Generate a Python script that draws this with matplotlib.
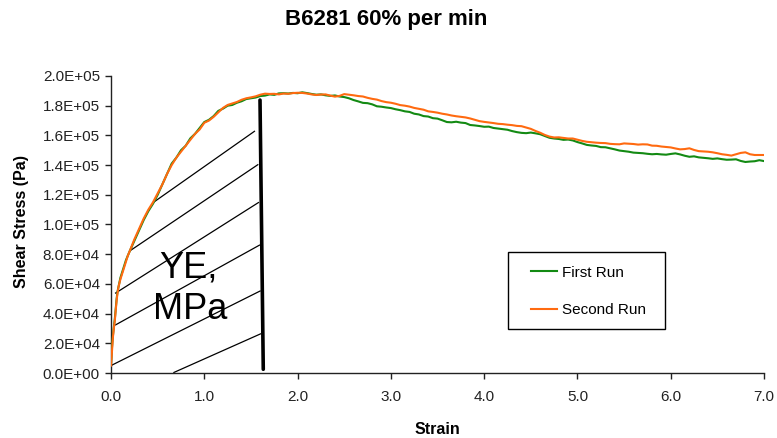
import matplotlib
matplotlib.use("Agg")
import matplotlib.pyplot as plt
from matplotlib.patches import Rectangle
from matplotlib.ticker import FuncFormatter, MultipleLocator

plt.rcParams['font.family'] = ['Liberation Sans', 'DejaVu Sans']

# Strain values (dimensionless)
strain = [
    0.00, 0.01, 0.02, 0.03, 0.04, 0.05, 0.06, 0.07, 0.08, 0.10, 0.12, 0.14, 0.16, 0.18, 0.20,
    0.25, 0.30, 0.35, 0.40, 0.45, 0.50, 0.55, 0.60, 0.65, 0.70, 0.75, 0.80, 0.85, 0.90, 0.95,
    1.00, 1.05, 1.10, 1.15, 1.20, 1.25, 1.30, 1.35, 1.40, 1.45, 1.50, 1.55, 1.60, 1.65, 1.70,
    1.75, 1.80, 1.85, 1.90, 1.95, 2.00, 2.05, 2.10, 2.15, 2.20, 2.25, 2.30, 2.35, 2.40, 2.45,
    2.50, 2.55, 2.60, 2.65, 2.70, 2.75, 2.80, 2.85, 2.90, 2.95, 3.00, 3.05, 3.10, 3.15, 3.20,
    3.25, 3.30, 3.35, 3.40, 3.45, 3.50, 3.55, 3.60, 3.65, 3.70, 3.75, 3.80, 3.85, 3.90, 3.95,
    4.00, 4.05, 4.10, 4.15, 4.20, 4.25, 4.30, 4.35, 4.40, 4.45, 4.50, 4.55, 4.60, 4.65, 4.70,
    4.75, 4.80, 4.85, 4.90, 4.95, 5.00, 5.05, 5.10, 5.15, 5.20, 5.25, 5.30, 5.35, 5.40, 5.45,
    5.50, 5.55, 5.60, 5.65, 5.70, 5.75, 5.80, 5.85, 5.90, 5.95, 6.00, 6.05, 6.10, 6.15, 6.20,
    6.25, 6.30, 6.35, 6.40, 6.45, 6.50, 6.55, 6.60, 6.65, 6.70, 6.75, 6.80, 6.85, 6.90, 6.95,
    7.00,
]

# Shear stress in kPa
first_run_kpa = [
    6, 17, 25, 31, 36, 43, 50, 55, 58, 64, 68, 72, 76, 79, 82,
    89, 96, 103, 109, 114, 120, 127, 134, 141, 145, 150, 153, 158, 161, 165,
    169, 170.5, 173, 176.5, 178, 180, 180.5, 182, 183, 184.5, 185, 185.5, 186.5, 186.8, 187.6,
    187.3, 188.3, 188.4, 188.2, 188.6, 188.4, 189.0, 188.5, 187.9, 187.4, 187.6, 187.0, 186.6, 186.9, 186.2,
    185.8, 185.0, 183.8, 182.9, 181.9, 181.7, 180.9, 179.6, 179.3, 178.8, 178.4, 177.6, 177.0, 176.2, 175.8,
    174.6, 174.1, 173.0, 172.7, 171.6, 171.3, 170.2, 169.0, 168.8, 169.2, 168.6, 168.3, 167.0, 166.7, 166.3,
    165.8, 165.9, 165.0, 164.6, 164.2, 163.8, 162.9, 162.2, 161.7, 161.5, 161.9, 161.4, 160.8, 159.6, 158.4,
    157.9, 157.6, 157.0, 157.2, 156.6, 155.5, 154.6, 153.6, 153.2, 152.9, 152.1, 152.0, 151.3, 150.6, 149.8,
    149.4, 149.0, 148.4, 148.2, 148.0, 147.6, 147.3, 147.5, 147.2, 147.0, 147.5, 147.9, 147.2, 146.3, 145.6,
    145.9, 145.2, 144.9, 144.6, 144.2, 144.5, 144.0, 143.6, 143.7, 143.9, 142.8, 142.1, 142.4, 142.6, 143.3,
    142.7,
]

second_run_kpa = [
    5, 15, 24, 30, 35, 42, 49, 54, 58, 63, 67, 71, 75, 79, 82,
    90, 97, 104, 110, 115, 121, 127, 134, 140, 145, 149, 153, 157, 161, 164,
    168.5, 170, 172.5, 175.5, 178.5, 180.5, 181.5, 182.5, 184, 185, 185.6, 186.3, 187.4, 188.1, 187.9,
    188.0, 187.6, 188.2, 188.0, 188.5, 188.7, 188.6, 188.2, 187.6, 187.2, 187.5, 187.6, 186.8, 186.1, 186.6,
    187.8, 187.4, 187.0, 186.5, 186.2, 185.3, 184.6, 184.1, 183.1, 182.4, 182.0, 181.3, 180.4, 180.0, 179.4,
    178.5, 177.9, 177.3, 176.2, 175.8, 175.3, 174.6, 174.1, 173.4, 172.9, 172.5, 172.1, 171.4, 170.5, 169.6,
    169.1, 168.7, 168.3, 167.8, 167.6, 167.2, 166.9, 166.4, 166.2, 165.3, 164.4, 163.0, 161.8, 160.3, 159.2,
    158.6, 158.7, 158.3, 157.9, 157.9, 157.1, 156.3, 155.7, 155.4, 155.1, 154.9, 154.8, 154.3, 154.1, 154.0,
    154.6, 154.4, 154.2, 153.8, 154.0, 153.9, 153.1, 153.0, 152.5, 152.2, 151.9, 151.2, 150.6, 150.8, 151.3,
    150.2, 149.4, 149.2, 149.0, 148.6, 148.0, 147.3, 146.9, 146.4, 147.3, 148.2, 148.6, 147.3, 146.8, 146.8,
    146.8,
]

series_labels = ["First Run", "Second Run"]
series_colors = ["#138a13", "#ff6a10"]

# Hatch strokes marking the yield-energy area: (x0, y0_kPa, x1, y1_kPa)
hatch_segments = [
    (0.443, 114.4, 1.543, 163.0),
    (0.196, 82.0, 1.579, 140.5),
    (0.043, 53.6, 1.586, 115.0),
    (0.043, 32.2, 1.597, 86.3),
    (0.000, 5.0, 1.604, 55.4),
    (0.668, 0.2, 1.608, 26.5),
]
# Vertical boundary of the yield-energy area
boundary_segment = (1.597, 183.8, 1.632, 2.5)

fig = plt.figure(figsize=(7.77, 4.38), dpi=100)
ax = fig.add_axes([0.1429, 0.1484, 0.8404, 0.6781])

for x0, y0, x1, y1 in hatch_segments:
    ax.plot([x0, x1], [y0 * 1e3, y1 * 1e3], color="black", lw=0.9, zorder=2,
            solid_capstyle="butt")
bx0, by0, bx1, by1 = boundary_segment
ax.plot([bx0, bx1], [by0 * 1e3, by1 * 1e3], color="black", lw=2.6, zorder=2,
        solid_capstyle="round")

for vals, lab, col in zip([first_run_kpa, second_run_kpa], series_labels, series_colors):
    ax.plot(strain, [v * 1e3 for v in vals], color=col, lw=1.5, label=lab, zorder=3)

ax.text(0.825, 71e3, "YE,", fontsize=26, ha="center", va="center", zorder=4)
ax.text(0.847, 43e3, "MPa", fontsize=26, ha="center", va="center", zorder=4)

ax.set_xlim(0, 7)
ax.set_ylim(0, 2.0e5)
ax.xaxis.set_major_locator(MultipleLocator(1.0))
ax.yaxis.set_major_locator(MultipleLocator(2.0e4))
ax.xaxis.set_major_formatter(FuncFormatter(lambda v, p: f"{v:.1f}"))
ax.yaxis.set_major_formatter(FuncFormatter(lambda v, p: f"{v:.1E}"))
ax.tick_params(axis="both", direction="out", length=4, width=1, labelsize=11,
               colors="#222222", pad=4)
ax.tick_params(axis="x", pad=8)
for side in ("top", "right"):
    ax.spines[side].set_visible(False)
for side in ("left", "bottom"):
    ax.spines[side].set_color("#222222")
    ax.spines[side].set_linewidth(1.0)

ax.set_xlabel("Strain", fontsize=11.5, fontweight="bold", labelpad=13)
fig.text(0.028, 1 - 221 / 438, "Shear Stress (Pa)", rotation=90, fontsize=11.5,
         fontweight="bold", ha="center", va="center")
fig.text(0.497, 1 - 19 / 438, "B6281 60% per min", fontsize=16, fontweight="bold",
         ha="center", va="center")

# Legend entries without their own frame; the border is drawn as a separate box
ax.legend(loc="upper left", bbox_to_anchor=(0.6427, 0.3613), fontsize=11,
          frameon=False, handlelength=1.75, handletextpad=0.3,
          labelspacing=1.52, borderpad=0, borderaxespad=0)
ax.add_patch(Rectangle((0.608, 0.147), 0.241, 0.259, transform=ax.transAxes,
                       fill=False, edgecolor="black", lw=1.0, zorder=5,
                       clip_on=False))

fig.savefig("out.png", dpi=100)
